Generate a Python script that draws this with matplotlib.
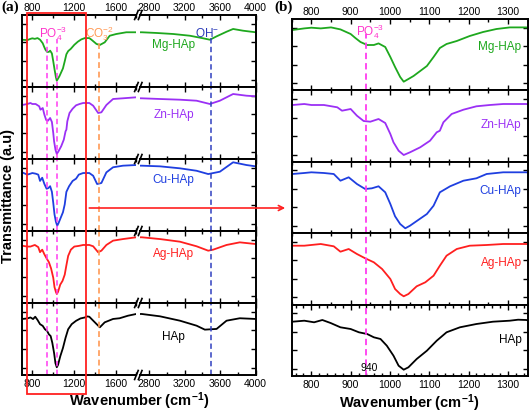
import numpy as np
import matplotlib
matplotlib.use('Agg')
import matplotlib.pyplot as plt
from matplotlib.ticker import MultipleLocator, FixedLocator
from matplotlib.lines import Line2D
from matplotlib.patches import Rectangle, FancyArrowPatch
import matplotlib.transforms as mtransforms

plt.rcParams['font.family'] = ['Liberation Sans', 'DejaVu Sans']
plt.rcParams['mathtext.fontset'] = 'custom'
plt.rcParams['mathtext.rm'] = 'Liberation Sans'
plt.rcParams['mathtext.it'] = 'Liberation Sans:italic'
plt.rcParams['mathtext.bf'] = 'Liberation Sans:bold'

# ---------------- data (wavenumber cm-1, transmittance a.u.) ----------------
samples = ['Mg-HAp', 'Zn-HAp', 'Cu-HAp', 'Ag-HAp', 'HAp']
colors = ['#1ea81e', '#9b30f5', '#1f3fe0', '#ff1f1f', '#000000']

mg_wn = [702, 752, 782, 800, 824, 850, 874, 900, 912, 925, 942, 959, 971, 988, 1001, 1013, 1026,
         1035, 1047, 1060, 1077, 1094, 1111, 1127, 1144, 1170, 1203, 1237, 1271, 1305, 1347, 1368,
         1416, 1448, 1495, 1543, 1606, 1702, 1797,
         2719, 2887, 3073, 3260, 3410, 3485, 3560, 3672, 3746, 3858, 4000]
mg_T = [60.9, 60.4, 62, 62.7, 62, 63, 61, 56.4, 52.4, 48.4, 45.4, 45.4, 47, 43.4, 33.4, 23.4, 13.4,
        8.7, 11.4, 14.4, 19.4, 24.4, 33.4, 42.4, 46.4, 49.4, 54.4, 58.4, 61.4, 63, 63, 60.9,
        55.5, 54.2, 57.6, 66, 68.2, 70.4, 70.4,
        70.4, 69.5, 68.2, 66, 62.7, 60.9, 65.2, 71.1, 74.6, 72.4, 70.4]

zn_wn = [702, 752, 782, 800, 832, 866, 878, 900, 916, 933, 950, 971, 988, 1001, 1009, 1022, 1035,
         1051, 1077, 1102, 1119, 1127, 1136, 1157, 1187, 1220, 1254, 1288, 1347, 1384, 1432, 1463,
         1511, 1575, 1670, 1797,
         2719, 2924, 3148, 3335, 3485, 3597, 3746, 3896, 4000]
zn_T = [55.8, 56.8, 57.8, 56.8, 56.8, 54.5, 51.1, 52.8, 46.1, 40.8, 40.1, 42.8, 38.8, 27.8, 19.5, 11.1, 6.8,
        9.5, 14.5, 21.1, 29.5, 31.1, 39.5, 47.8, 52.1, 55.5, 56.8, 57.8, 57.8, 55.1, 47.8, 48.5,
        55.8, 61.8, 62.5, 63.5,
        62.5, 61.8, 61.1, 60.1, 56.8, 60.1, 66.8, 65.1, 64.5]

cu_wn = [702, 752, 782, 800, 832, 857, 874, 895, 916, 937, 954, 971, 988, 1001, 1013, 1026, 1039,
         1051, 1073, 1094, 1111, 1127, 1153, 1187, 1220, 1246, 1288, 1347, 1384, 1422, 1463, 1511,
         1575, 1670, 1797,
         2719, 2924, 3148, 3335, 3466, 3597, 3746, 3896, 4000]
cu_T = [61.6, 59.2, 60.2, 60.9, 60.2, 59.2, 52.5, 55.9, 49.2, 44.2, 44.9, 46.9, 40.9, 29.2, 16.9, 9.2, 4.9,
        7.5, 13.5, 19.2, 27.5, 40.9, 46.9, 52.5, 54.9, 59.2, 60.9, 60.9, 58.0, 49.2, 50.3, 61.6,
        67.0, 68.7, 69.4,
        68.7, 68.0, 65.9, 63.3, 59.8, 62.3, 72.3, 69.4, 68.0]

ag_wn = [702, 752, 782, 824, 857, 874, 895, 916, 937, 959, 980, 1001, 1013, 1026, 1035, 1047, 1068,
         1090, 1111, 1127, 1144, 1170, 1203, 1246, 1288, 1347, 1384, 1432, 1463, 1511, 1575, 1670, 1797,
         2719, 2924, 3148, 3335, 3466, 3522, 3672, 3821, 4000]
ag_T = [59.8, 58.9, 58.9, 60.6, 58.3, 52.9, 55.6, 50.6, 46.3, 42.3, 35.6, 25.6, 15.6, 10.6, 8.3, 10.6, 18.3,
        22.3, 28.9, 38.9, 48.9, 55.6, 58.9, 59.6, 60.6, 60.6, 59.2, 52.8, 54.5, 60.6, 65.2, 66.9, 68.8,
        68.8, 66.9, 64.1, 59.2, 54.5, 55.6, 60.6, 63.4, 61.6]

hap_wn = [702, 752, 782, 807, 828, 849, 874, 900, 921, 942, 959, 976, 992, 1009, 1022, 1035, 1047,
          1068, 1094, 1119, 1144, 1178, 1220, 1262, 1305, 1326, 1347, 1400, 1448, 1495, 1575, 1638,
          1718, 1797,
          2719, 2924, 3148, 3335, 3428, 3560, 3672, 3821, 4000]
hap_T = [53.8, 54.3, 55.3, 53.7, 56, 53, 48.7, 47, 43.7, 42, 38.7, 37, 30.3, 20.3, 10.3, 6.3, 8.7,
         17, 25.3, 35.3, 43.7, 48.7, 52, 54.3, 55.3, 56.3, 56, 50.5, 45.6, 50.5, 53.8, 54.5,
         57.0, 58.7,
         58.7, 56.4, 52.1, 47.2, 43.3, 44.0, 52.1, 54.5, 53.8]

wn_list = [mg_wn, zn_wn, cu_wn, ag_wn, hap_wn]
T_list = [mg_T, zn_T, cu_T, ag_T, hap_T]

# band positions
po4_bands = [940, 1035]
co3_band = 1440
oh_band = 3500
zoom_band = 940

# axis ranges
a_left_lim = (700, 1800)
a_right_lim = (2700, 4000)
b_lim = (750, 1350)
a_ylims = [(0.7, 92.4), (1.8, 73.8), (-0.7, 75.8), (-1.3, 75.5), (-1.3, 69.5)]
b_ylims = [(0, 71.4)] * 5

# ---------------- figure ----------------
W, H = 529, 414
fig = plt.figure(figsize=(W / 100, H / 100), dpi=100)


def rect(x0, x1, y0, y1):
    return [x0 / W, 1 - y1 / H, (x1 - x0) / W, (y1 - y0) / H]


AL = (21.9, 136.5)
AR = (140.1, 255.7)
A_TOP, A_STEP = 16, 72
BX = (291.7, 527.5)
B_TOP, B_STEP = 20, 71.4

SPW = 1.4
TICKFS = 7.5
LABFS = 8.5
mag = '#ff3cf0'
mag_txt = '#ff33cc'
orange = '#ff9a55'
blue_d = '#3040c0'


def style(ax, i, left=True, right=True):
    for s in ax.spines.values():
        s.set_linewidth(SPW)
    ax.tick_params(which='both', direction='in', top=True, bottom=True,
                   labeltop=(i == 0), labelbottom=(i == 4), labelsize=TICKFS,
                   left=left, right=right, labelleft=False, labelright=False,
                   width=1.0, pad=2)
    ax.tick_params(which='major', length=3.5)
    ax.tick_params(which='minor', length=2.2)


axes_a_left = []
for i in range(5):
    y0 = A_TOP + A_STEP * i
    y1 = y0 + A_STEP
    axL = fig.add_axes(rect(AL[0], AL[1], y0, y1))
    axR = fig.add_axes(rect(AR[0], AR[1], y0, y1))
    axB = fig.add_axes(rect(BX[0], BX[1], B_TOP + B_STEP * i, B_TOP + B_STEP * (i + 1)))
    axes_a_left.append(axL)
    for ax in (axL, axR, axB):
        ax.plot(wn_list[i], T_list[i], color=colors[i], lw=1.3)
    axL.set_xlim(*a_left_lim)
    axR.set_xlim(*a_right_lim)
    axB.set_xlim(*b_lim)
    for ax, yl in ((axL, a_ylims[i]), (axR, a_ylims[i]), (axB, b_ylims[i])):
        ax.set_ylim(*yl)
        lo, hi = yl
        ax.yaxis.set_major_locator(FixedLocator([lo + (hi - lo) * f for f in (0.1, 0.36, 0.62, 0.88)]))
    axL.spines['right'].set_visible(False)
    axR.spines['left'].set_visible(False)
    style(axL, i, left=True, right=False)
    style(axR, i, left=False, right=True)
    style(axB, i, left=True, right=True)
    axL.xaxis.set_major_locator(MultipleLocator(400))
    axL.xaxis.set_minor_locator(MultipleLocator(200))
    axR.xaxis.set_major_locator(FixedLocator([2800, 3200, 3600, 4000]))
    axR.xaxis.set_minor_locator(FixedLocator([3000, 3400, 3800]))
    axB.xaxis.set_major_locator(MultipleLocator(100))
    axB.xaxis.set_minor_locator(MultipleLocator(20 if i == 4 else 50))

    # dashed band markers
    top_a = 0.67 if i == 0 else 1.0
    for b in po4_bands:
        axL.axvline(b, ymax=top_a, color=mag, lw=1.1, ls=(0, (3.5, 2.2)))
    axL.axvline(co3_band, ymax=(0.64 if i == 0 else 1.0), color=orange, lw=1.2, ls=(0, (3.5, 2.2)))
    axR.axvline(oh_band, ymax=(0.71 if i == 0 else 1.0), color=blue_d, lw=1.1, ls=(0, (3.5, 2.2)))
    axB.axvline(zoom_band, ymax=(0.79 if i == 0 else 1.0), color=mag, lw=1.3, ls=(0, (3.5, 2.2)))

    # sample labels
    a_lab_y = [0.60, 0.625, 0.72, 0.69, 0.54][i]
    axR.text(0.29, a_lab_y, samples[i], transform=axR.transAxes, color=colors[i],
             fontsize=LABFS, ha='center', va='center')
    b_lab_y = [0.62, 0.53, 0.60, 0.60, 0.52][i]
    axB.text(0.975, b_lab_y, samples[i], transform=axB.transAxes, color=colors[i],
             fontsize=LABFS, ha='right', va='center')

    if i == 0:
        axL.text(995, 0.70, r'PO$_4^{-3}$', transform=axL.get_xaxis_transform(),
                 color=mag_txt, fontsize=LABFS, ha='center', va='baseline')
        axL.text(1445, 0.70, r'CO$_3^{-2}$', transform=axL.get_xaxis_transform(),
                 color=orange, fontsize=LABFS, ha='center', va='baseline')
        axR.text(3450, 0.71, r'OH$^{-}$', transform=axR.get_xaxis_transform(),
                 color='#2a3ab8', fontsize=LABFS, ha='center', va='baseline')
        axB.text(950, 0.78, r'PO$_4^{-3}$', transform=axB.get_xaxis_transform(),
                 color=mag_txt, fontsize=LABFS, ha='center', va='baseline')
    if i == 4:
        axB.text(948, 0.08, '940', transform=axB.get_xaxis_transform(),
                 color='black', fontsize=TICKFS, ha='center', va='baseline')

# break marks "//"
xm = (AL[1] + AR[0]) / 2
for k in range(6):
    yb = A_TOP + A_STEP * k
    for dx in (-1.9, 1.9):
        fig.add_artist(Line2D([(xm + dx - 1.8) / W, (xm + dx + 1.8) / W],
                              [1 - (yb + 4.5) / H, 1 - (yb - 4.5) / H],
                              transform=fig.transFigure, color='black', lw=1.2))

# red zoom rectangle and arrow
axb = axes_a_left[4]
blend = mtransforms.blended_transform_factory(axb.transData, fig.transFigure)
rx0, rx1 = 745, 1320
ry0, ry1 = 1 - 395 / H, 1 - 14 / H
fig.add_artist(Rectangle((rx0, ry0), rx1 - rx0, ry1 - ry0, transform=blend,
                         fill=False, edgecolor='#ff2020', lw=1.3, clip_on=False))
xr_fig = fig.transFigure.inverted().transform(axb.transData.transform((rx1, 0)))[0]
fig.add_artist(FancyArrowPatch((xr_fig, 1 - 209 / H), (288 / W, 1 - 209 / H),
                               transform=fig.transFigure, arrowstyle='->', mutation_scale=9,
                               color='#ff2020', lw=1.2))

# axis titles
fig.text(139 / W, 1 - 401 / H, r'Wavenumber (cm$^{\mathbf{-1}}$)', fontsize=10.5,
         fontweight='bold', ha='center', va='center')
fig.text(409 / W, 1 - 403 / H, r'Wavenumber (cm$^{\mathbf{-1}}$)', fontsize=10.5,
         fontweight='bold', ha='center', va='center')
fig.text(8 / W, 1 - 196 / H, 'Transmittance (a.u)', fontsize=10.5, fontweight='bold',
         rotation=90, ha='center', va='center')
fig.text(10 / W, 1 - 7 / H, '(a)', fontsize=11, fontweight='bold',
         family=['Liberation Serif', 'DejaVu Serif'], ha='center', va='center')
fig.text(284 / W, 1 - 7 / H, '(b)', fontsize=11, fontweight='bold',
         family=['Liberation Serif', 'DejaVu Serif'], ha='center', va='center')

fig.savefig('out.png', dpi=100)
